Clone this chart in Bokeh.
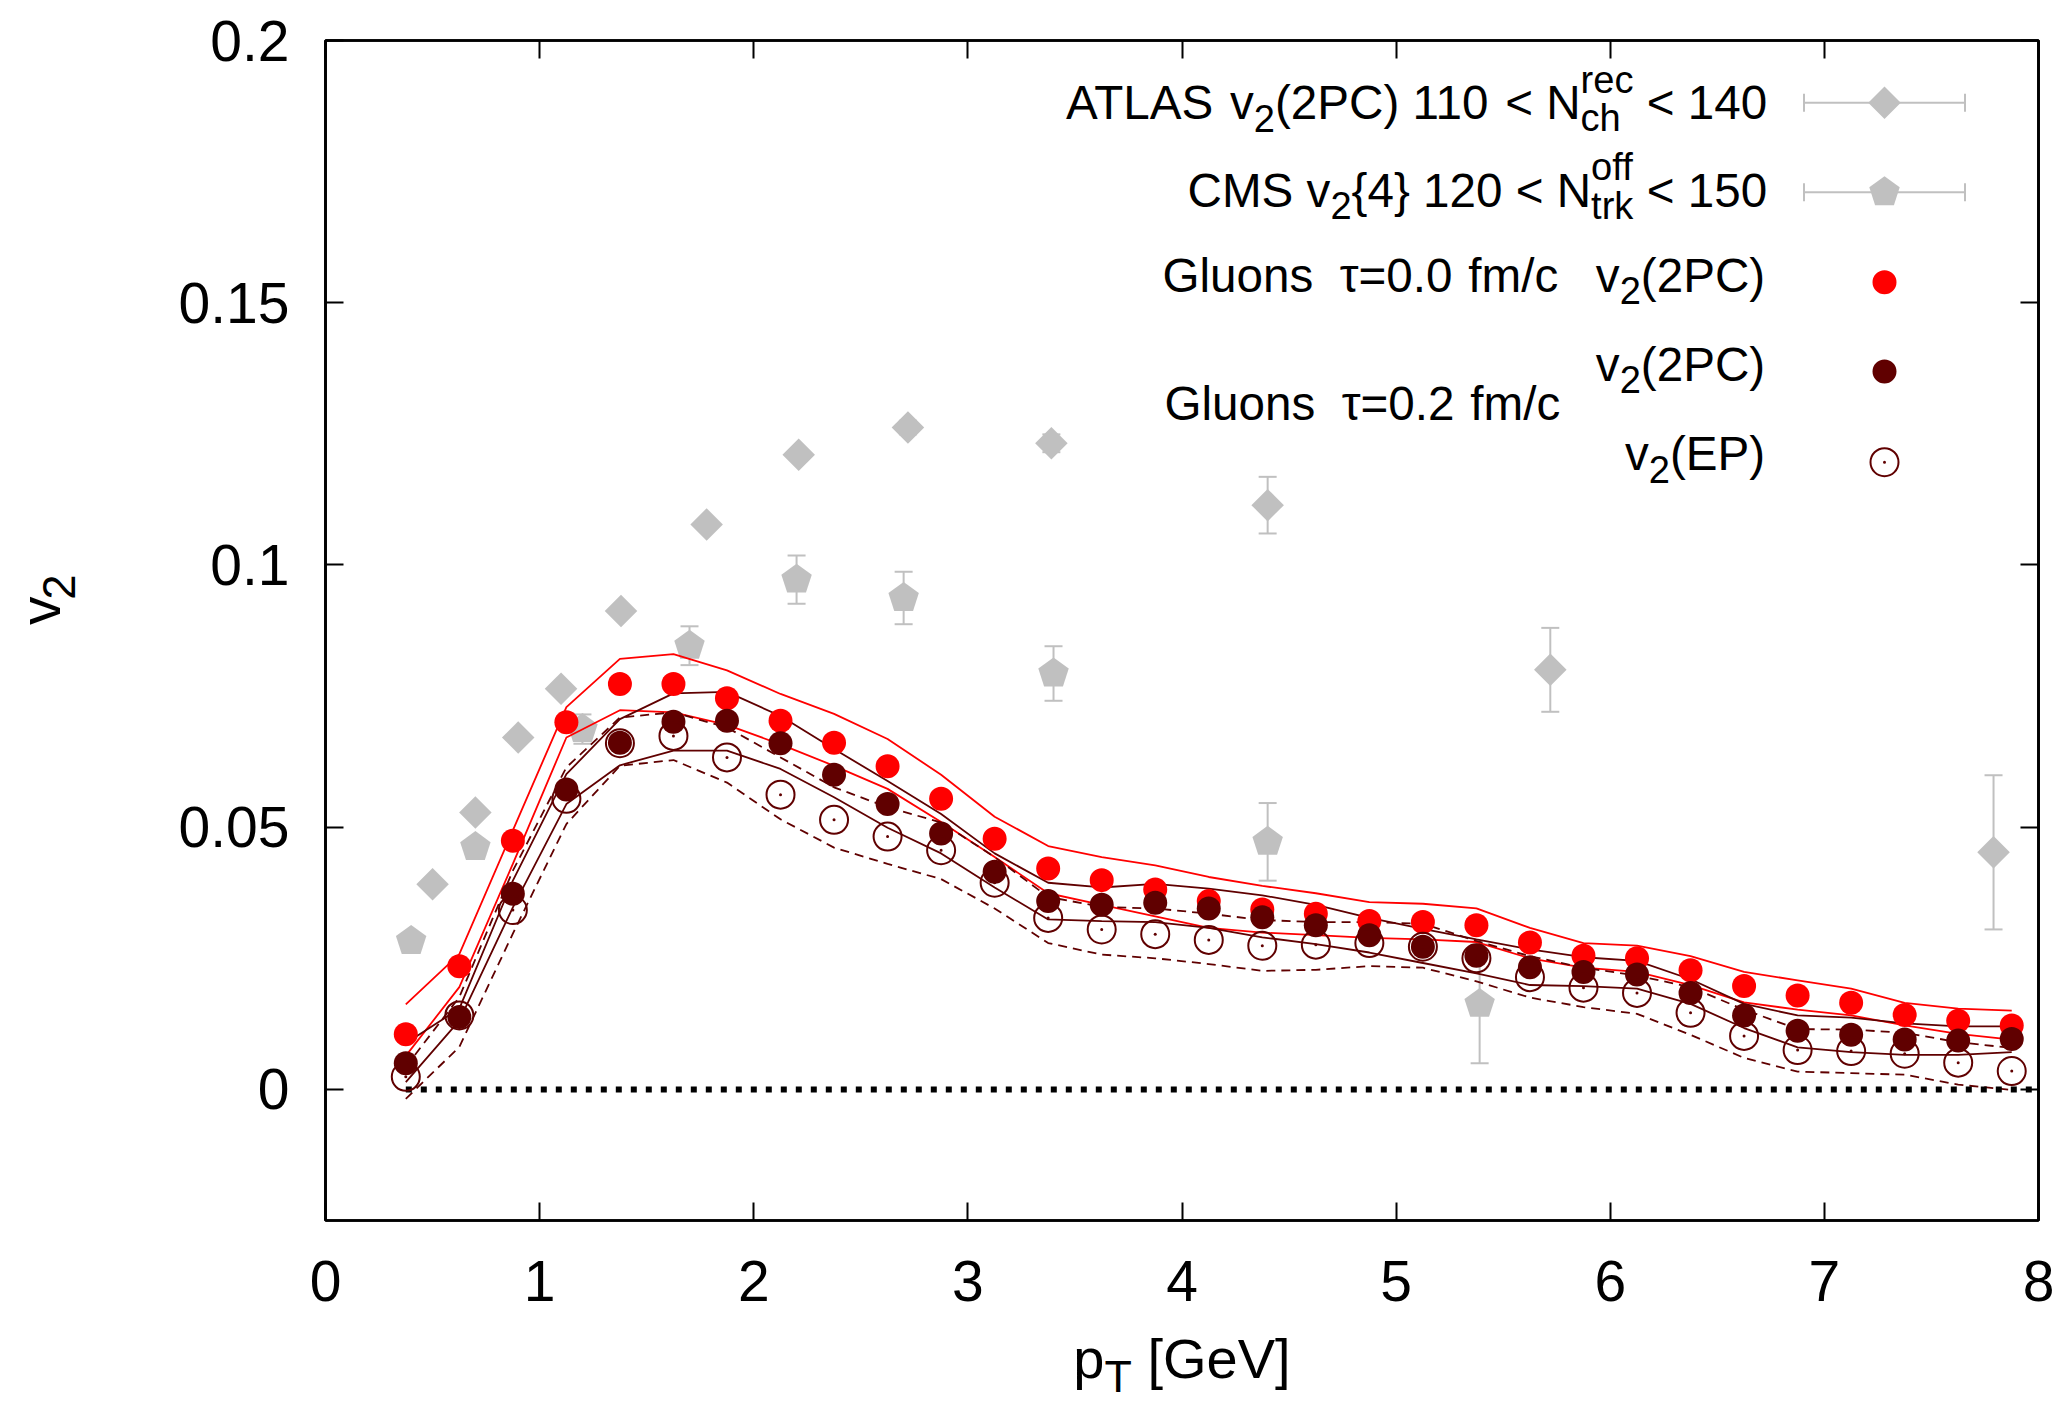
import math
from bokeh.plotting import figure
from bokeh.layouts import row, column
from bokeh.models import (Range1d, LinearAxis, FixedTicker, CustomJSTickFormatter,
                          Label, Whisker, ColumnDataSource, TeeHead)
from bokeh.embed import file_html
from bokeh.resources import INLINE

# ---------------- data ----------------
pt = [0.375, 0.625, 0.875, 1.125, 1.375, 1.625, 1.875, 2.125, 2.375, 2.625,
      2.875, 3.125, 3.375, 3.625, 3.875, 4.125, 4.375, 4.625, 4.875, 5.125,
      5.375, 5.625, 5.875, 6.125, 6.375, 6.625, 6.875, 7.125, 7.375, 7.625, 7.875]

# Gluons tau=0.0 fm/c, v2(2PC)
v2_t00_2pc = [0.0105, 0.0235, 0.0474, 0.0700, 0.0773, 0.0773, 0.0746, 0.0703, 0.0661, 0.0616,
              0.0554, 0.0478, 0.0421, 0.0399, 0.0381, 0.0359, 0.0343, 0.0335, 0.0321, 0.0319,
              0.0313, 0.0280, 0.0255, 0.0250, 0.0227, 0.0197, 0.0179, 0.0165, 0.0142, 0.0131, 0.0122]
v2_t00_2pc_hi = [0.0162, 0.0258, 0.0494, 0.0729, 0.0821, 0.0830, 0.0799, 0.0754, 0.0716, 0.0668,
                 0.0600, 0.0520, 0.0464, 0.0443, 0.0427, 0.0405, 0.0388, 0.0374, 0.0357, 0.0354,
                 0.0345, 0.0308, 0.0279, 0.0274, 0.0254, 0.0224, 0.0208, 0.0192, 0.0165, 0.0154, 0.0150]
v2_t00_2pc_lo = [0.0064, 0.0195, 0.0430, 0.0671, 0.0723, 0.0719, 0.0695, 0.0658, 0.0617, 0.0573,
                 0.0510, 0.0443, 0.0374, 0.0352, 0.0330, 0.0308, 0.0299, 0.0294, 0.0289, 0.0286,
                 0.0281, 0.0250, 0.0232, 0.0224, 0.0199, 0.0166, 0.0152, 0.0141, 0.0122, 0.0106, 0.0095]

# Gluons tau=0.2 fm/c, v2(2PC)
v2_t02_2pc = [0.0050, 0.0138, 0.0373, 0.0572, 0.0661, 0.0701, 0.0703, 0.0660, 0.0600, 0.0544,
              0.0488, 0.0415, 0.0359, 0.0352, 0.0356, 0.0345, 0.0328, 0.0313, 0.0294, 0.0272,
              0.0255, 0.0233, 0.0224, 0.0219, 0.0184, 0.0141, 0.0112, 0.0104, 0.0095, 0.0093, 0.0096]
v2_t02_2pc_hi = [0.0088, 0.0154, 0.0398, 0.0601, 0.0706, 0.0755, 0.0758, 0.0712, 0.0649, 0.0588,
                 0.0525, 0.0450, 0.0394, 0.0385, 0.0392, 0.0383, 0.0370, 0.0352, 0.0327, 0.0306,
                 0.0286, 0.0267, 0.0252, 0.0245, 0.0210, 0.0163, 0.0141, 0.0137, 0.0126, 0.0120, 0.0120]
v2_t02_2pc_lo = [0.0014, 0.0131, 0.0347, 0.0544, 0.0618, 0.0646, 0.0646, 0.0611, 0.0557, 0.0499,
                 0.0450, 0.0385, 0.0324, 0.0321, 0.0319, 0.0308, 0.0290, 0.0277, 0.0261, 0.0241,
                 0.0221, 0.0199, 0.0197, 0.0192, 0.0163, 0.0117, 0.0080, 0.0071, 0.0066, 0.0066, 0.0071]

# Gluons tau=0.2 fm/c, v2(EP)
v2_t02_ep = [0.0024, 0.0141, 0.0342, 0.0554, 0.0660, 0.0674, 0.0633, 0.0562, 0.0514, 0.0482,
             0.0456, 0.0394, 0.0327, 0.0305, 0.0296, 0.0285, 0.0274, 0.0276, 0.0279, 0.0272,
             0.0250, 0.0214, 0.0194, 0.0184, 0.0146, 0.0102, 0.0075, 0.0073, 0.0068, 0.0051, 0.0035]
v2_t02_ep_hi = [0.0043, 0.0176, 0.0417, 0.0614, 0.0709, 0.0719, 0.0690, 0.0633, 0.0576, 0.0538,
                0.0509, 0.0443, 0.0367, 0.0348, 0.0345, 0.0335, 0.0323, 0.0319, 0.0319, 0.0316,
                0.0283, 0.0254, 0.0232, 0.0217, 0.0195, 0.0152, 0.0115, 0.0114, 0.0108, 0.0090, 0.0079]
v2_t02_ep_lo = [-0.0018, 0.0081, 0.0297, 0.0506, 0.0617, 0.0628, 0.0585, 0.0515, 0.0461, 0.0430,
                0.0401, 0.0345, 0.0279, 0.0257, 0.0250, 0.0239, 0.0226, 0.0228, 0.0235, 0.0232,
                0.0206, 0.0175, 0.0157, 0.0144, 0.0104, 0.0060, 0.0034, 0.0031, 0.0028, 0.0009, -0.0001]

# ATLAS v2(2PC) 110 < N_ch^rec < 140
atlas_pt = [0.50, 0.70, 0.90, 1.10, 1.38, 1.78, 2.21, 2.72, 3.39, 4.40, 5.72, 7.79]
atlas_v2 = [0.0391, 0.0528, 0.0671, 0.0764, 0.0912, 0.1077, 0.1210, 0.1262, 0.1232, 0.1114, 0.0800, 0.0452]
atlas_err = [0.0005, 0.0005, 0.0005, 0.0006, 0.0007, 0.0008, 0.0010, 0.0013, 0.0017, 0.0054, 0.0080, 0.0147]

# CMS v2{4} 120 < N_trk^off < 150
cms_pt = [0.40, 0.70, 1.20, 1.70, 2.20, 2.70, 3.40, 4.40, 5.39]
cms_v2 = [0.0283, 0.0462, 0.0687, 0.0846, 0.0972, 0.0937, 0.0793, 0.0472, 0.0163]
cms_err = [0.0005, 0.0008, 0.0028, 0.0037, 0.0046, 0.0050, 0.0052, 0.0074, 0.0113]

x_ticks = [0, 1, 2, 3, 4, 5, 6, 7, 8]
y_ticks = [0, 0.05, 0.1, 0.15, 0.2]

# ---------------- layout (page pixels) ----------------
W, H = 2064, 1401
YLW = 100          # width of the strip holding the y-axis title
XLH = 75           # height of the strip holding the x-axis title
FL, FR, FT, FB = 325, 2038, 40, 1220   # frame edges in page pixels
PW, PH = W - YLW, H - XLH
X0, X1 = 0.0, 8.0
Y0, Y1 = -0.025, 0.2
FW = FR - FL
FH = FB - FT
SX = FW / (X1 - X0)
SY = FH / (Y1 - Y0)
FONT = "Liberation Sans"
RED = "#ff0000"
DARK = "#600000"
GRAY = "#c0c0c0"
BASE_FIX = 0.36    # baseline correction (fraction of font size)
LW = 1.8


def dx(px):
    return X0 + (px - FL) / SX


def dy(py):
    return Y0 + (FB - py) / SY


p = figure(width=PW, height=PH, x_range=Range1d(X0, X1), y_range=Range1d(Y0, Y1),
           output_backend="svg", toolbar_location=None,
           min_border_left=FL - YLW, min_border_right=W - FR, min_border_top=FT,
           min_border_bottom=PH - FB,
           background_fill_color="white", border_fill_color="white")
p.xgrid.visible = False
p.ygrid.visible = False
p.outline_line_color = "black"
p.outline_line_width = 2.7


def style_axis(ax, ticks, labels, standoff=36):
    ax.ticker = FixedTicker(ticks=ticks)
    ax.major_tick_in = 18
    ax.major_tick_out = 0
    ax.minor_tick_line_color = None
    ax.major_tick_line_color = "black"
    ax.major_tick_line_width = 2
    ax.axis_line_color = "black"
    ax.axis_line_width = 2.7
    if labels:
        ax.major_label_text_font = FONT
        ax.major_label_text_font_size = "57px"
        ax.major_label_text_color = "black"
        ax.major_label_standoff = standoff
    else:
        ax.major_label_text_font_size = "0px"
        ax.major_label_text_alpha = 0
        ax.major_label_standoff = 0


style_axis(p.xaxis[0], x_ticks, True, 40)
style_axis(p.yaxis[0], y_ticks, True, 36)
p.yaxis[0].formatter = CustomJSTickFormatter(code="return String(Math.round(tick*1000)/1000);")
top_ax = LinearAxis()
right_ax = LinearAxis()
style_axis(top_ax, x_ticks, False)
style_axis(right_ax, y_ticks, False)
p.add_layout(top_ax, "above")
p.add_layout(right_ax, "right")


# ---------------- text helpers ----------------
CW = {' ': 278, '(': 333, ')': 333, '{': 334, '}': 334, '[': 278, ']': 278, '<': 584, '=': 584,
      '.': 278, '/': 278, 'A': 667, 'C': 722, 'E': 667, 'G': 778, 'L': 556, 'M': 833, 'N': 722,
      'P': 667, 'S': 667, 'T': 611, 'V': 667, 'a': 556, 'c': 500, 'e': 556, 'f': 278, 'h': 556,
      'k': 500, 'l': 222, 'm': 833, 'n': 556, 'o': 556, 'p': 556, 'r': 333, 's': 500, 't': 278,
      'u': 556, 'v': 500, 'τ': 450}


def cw(c):
    return CW.get(c, 556) / 1000.0


def tw(s, size):
    return sum(cw(c) for c in s) * size


def put_main(text, px, py, size):
    p.add_layout(Label(x=dx(px), y=dy(py - BASE_FIX * size), text=text, text_font=FONT,
                       text_font_size=f"{size:.1f}px", text_align="left",
                       text_baseline="alphabetic", text_color="black"))


def draw_run(text, x_left, base, size):
    x = x_left
    word = ""
    wx = x
    for c in text:
        if c == " ":
            if word:
                put_main(word, wx, base, size)
            word = ""
        else:
            if not word:
                wx = x
            word += c
        x += cw(c) * size
    if word:
        put_main(word, wx, base, size)


def rich(segs, x_end, base, size):
    small = size * 0.8
    x = x_end
    for seg in reversed(segs):
        kind = seg[0]
        if kind == "n":
            x -= tw(seg[1], size)
            draw_run(seg[1], x, base, size)
        elif kind == "sub":
            x -= tw(seg[1], small)
            draw_run(seg[1], x, base + 0.26 * size, small)
        elif kind == "stack":
            x -= max(tw(seg[1], small), tw(seg[2], small))
            draw_run(seg[1], x, base - 0.55 * size, small)
            draw_run(seg[2], x, base + 0.26 * size, small)


def pentagon(xc, yc, r):
    xs, ys = [], []
    for k in range(5):
        a = math.pi / 2 + 2 * math.pi * k / 5
        xs.append(xc + r * math.cos(a) / SX)
        ys.append(yc + r * math.sin(a) / SY)
    return xs, ys


# ---------------- experimental data ----------------
atlas_src = ColumnDataSource(dict(x=atlas_pt, y=atlas_v2,
                                  upper=[v + e for v, e in zip(atlas_v2, atlas_err)],
                                  lower=[v - e for v, e in zip(atlas_v2, atlas_err)]))
cms_src = ColumnDataSource(dict(x=cms_pt, y=cms_v2,
                                upper=[v + e for v, e in zip(cms_v2, cms_err)],
                                lower=[v - e for v, e in zip(cms_v2, cms_err)]))
for src in (atlas_src, cms_src):
    p.add_layout(Whisker(source=src, base="x", upper="upper", lower="lower", dimension="height",
                         line_color=GRAY, line_width=2,
                         upper_head=TeeHead(size=18, line_color=GRAY, line_width=2),
                         lower_head=TeeHead(size=18, line_color=GRAY, line_width=2)))

p.scatter(x="x", y="y", source=atlas_src, marker="square", angle=math.pi / 4, size=23,
          fill_color=GRAY, line_color=None)
pent_xs, pent_ys = [], []
for xc, yc in zip(cms_pt, cms_v2):
    a, b = pentagon(xc, yc, 16)
    pent_xs.append(a)
    pent_ys.append(b)
p.patches(pent_xs, pent_ys, fill_color=GRAY, line_color=None)

# ---------------- theory bands ----------------
p.line(pt, v2_t00_2pc_hi, line_color=RED, line_width=LW)
p.line(pt, v2_t00_2pc_lo, line_color=RED, line_width=LW)
p.line(pt, v2_t02_2pc_hi, line_color=DARK, line_width=LW)
p.line(pt, v2_t02_2pc_lo, line_color=DARK, line_width=LW)
p.line(pt, v2_t02_ep_hi, line_color=DARK, line_width=LW, line_dash="9 6")
p.line(pt, v2_t02_ep_lo, line_color=DARK, line_width=LW, line_dash="9 6")

# zero line
p.line([pt[0], X1], [0, 0], line_color="black", line_width=6, line_dash="6 9")

# ---------------- theory points ----------------
p.scatter(pt, v2_t00_2pc, marker="circle", size=24, fill_color=RED, line_color=None)
p.scatter(pt, v2_t02_2pc, marker="circle", size=24, fill_color=DARK, line_color=None)
p.scatter(pt, v2_t02_ep, marker="circle", size=28, fill_color=None, line_color=DARK, line_width=2)
p.scatter(pt, v2_t02_ep, marker="circle", size=3, fill_color=DARK, line_color=None)

# ---------------- legend ----------------
LS = 47.6
LX = 1884
rich([("n", "ATLAS v"), ("sub", "2"), ("n", "(2PC) 110 < N"), ("stack", "rec", "ch"), ("n", " < 140")],
     1766.6, 119.3, LS)
rich([("n", "CMS v"), ("sub", "2"), ("n", "{4} 120 < N"), ("stack", "off", "trk"), ("n", " < 150")],
     1766.6, 206.7, LS)
rich([("n", "Gluons  τ=0.0 fm/c")], 1557.7, 291.7, LS)
rich([("n", "v"), ("sub", "2"), ("n", "(2PC)")], 1764.6, 291.7, LS)
rich([("n", "v"), ("sub", "2"), ("n", "(2PC)")], 1764.6, 380.7, LS)
rich([("n", "Gluons  τ=0.2 fm/c")], 1559.7, 420.0, LS)
rich([("n", "v"), ("sub", "2"), ("n", "(EP)")], 1764.6, 470.0, LS)

for row_y in (102.3, 191.7):
    p.segment(x0=[dx(LX - 80.5)], y0=[dy(row_y)], x1=[dx(LX + 80.5)], y1=[dy(row_y)],
              line_color=GRAY, line_width=2)
    p.segment(x0=[dx(LX - 80.5), dx(LX + 80.5)], y0=[dy(row_y - 9)] * 2,
              x1=[dx(LX - 80.5), dx(LX + 80.5)], y1=[dy(row_y + 9)] * 2,
              line_color=GRAY, line_width=2)
p.scatter([dx(LX)], [dy(102.3)], marker="square", angle=math.pi / 4, size=23,
          fill_color=GRAY, line_color=None)
lp_x, lp_y = pentagon(dx(LX), dy(191.7), 16)
p.patch(lp_x, lp_y, fill_color=GRAY, line_color=None)
p.scatter([dx(LX)], [dy(281.7)], marker="circle", size=24, fill_color=RED, line_color=None)
p.scatter([dx(LX)], [dy(371.0)], marker="circle", size=24, fill_color=DARK, line_color=None)
p.scatter([dx(LX)], [dy(461.7)], marker="circle", size=28, fill_color=None,
          line_color=DARK, line_width=2)
p.scatter([dx(LX)], [dy(461.7)], marker="circle", size=3, fill_color=DARK, line_color=None)


# ---------------- axis titles (own strips, local pixel coordinates) ----------------
def strip(width, height):
    f = figure(width=width, height=height, x_range=Range1d(0, width), y_range=Range1d(height, 0),
               output_backend="svg", toolbar_location=None, x_axis_type=None, y_axis_type=None,
               min_border=0, background_fill_color="white", border_fill_color="white")
    f.xgrid.visible = False
    f.ygrid.visible = False
    f.outline_line_color = None
    return f


def put_px(fig, text, px, py, size, angle=0.0):
    fig.add_layout(Label(x=px, y=py, text=text, text_font=FONT, text_font_size=f"{size:.1f}px",
                         text_align="left", text_baseline="alphabetic", text_color="black",
                         angle=angle))


AS = 57
XS = 56
fx = strip(W, XLH)          # full-width strip at page y = PH
xs0 = (FL + FR) / 2 - (tw("p", XS) + tw("T", XS * 0.8) + tw(" [GeV]", XS)) / 2
XB = 1378 - PH
put_px(fx, "p", xs0, XB - BASE_FIX * XS, XS)
put_px(fx, "T", xs0 + tw("p", XS), XB + 0.24 * XS - BASE_FIX * XS * 0.8, XS * 0.8)
put_px(fx, "[GeV]", xs0 + tw("p", XS) + tw("T", XS * 0.8) + tw(" ", XS), XB - BASE_FIX * XS, XS)

fy = strip(YLW, PH)         # strip left of the plot, page x = 0
yc = (FT + FB) / 2
ytot = tw("v", AS) + tw("2", AS * 0.8)
YB = 60
put_px(fy, "v", YB - BASE_FIX * AS, yc + ytot / 2, AS, angle=math.pi / 2)
put_px(fy, "2", YB + 0.26 * AS - BASE_FIX * AS * 0.8, yc + ytot / 2 - tw("v", AS), AS * 0.8,
       angle=math.pi / 2)

layout = column(row(fy, p, spacing=0), fx, spacing=0)
open("out.html", "w").write(file_html(layout, INLINE))
